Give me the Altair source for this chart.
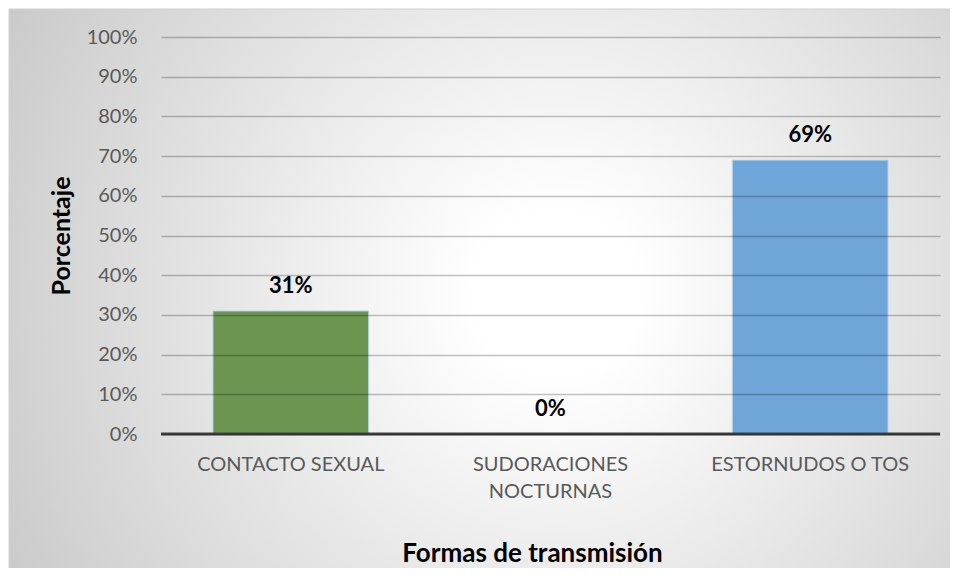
import altair as alt
import pandas as pd

categories = ["CONTACTO SEXUAL", "SUDORACIONES NOCTURNAS", "ESTORNUDOS O TOS"]
values = [0.31, 0.00, 0.69]
bar_colors = ["#6b9551", "#6fa5d8", "#6fa5d8"]
y_ticks = [0, 0.1, 0.2, 0.3, 0.4, 0.5, 0.6, 0.7, 0.8, 0.9, 1.0]

df = pd.DataFrame({"cat": categories, "val": values, "col": bar_colors})

W, H = 779, 397
PAD = {"left": 153, "top": 29, "right": 10, "bottom": 134}
FONT = "Lato"

bg_grad = alt.RadialGradient(
    gradient="radial",
    stops=[alt.GradientStop(color="#ffffff", offset=0),
           alt.GradientStop(color="#ffffff", offset=0.12),
           alt.GradientStop(color="#c4c4c4", offset=1)],
    x1=0.58, y1=0.5, r1=0, x2=0.58, y2=0.5, r2=0.72,
)

bg = alt.Chart(pd.DataFrame({"d": [0]})).mark_rect(
    fill=bg_grad, stroke="#d0d0d0", strokeWidth=1
).encode(
    x=alt.value(-PAD["left"] + 1),
    x2=alt.value(W + PAD["right"] + 2),
    y=alt.value(-PAD["top"] + 1),
    y2=alt.value(H + PAD["bottom"] + 10),
)

xaxis = alt.Axis(
    labelAngle=0, labelFont=FONT, labelFontSize=20, labelColor="#595959",
    labelPadding=20, labelLineHeight=27, labelBaseline="top", labelLimit=0,
    labelExpr="datum.label == 'SUDORACIONES NOCTURNAS' ? ['SUDORACIONES', 'NOCTURNAS'] : datum.label",
    ticks=False, domain=False, grid=False, zindex=1,
    titleFont=FONT, titleFontSize=26, titleFontWeight="bold", titleColor="#000000",
    titleX=371, titleY=119, titleAlign="center", titleBaseline="middle",
)
yaxis = alt.Axis(
    values=y_ticks, format=".0%", labelFont=FONT, labelFontSize=20,
    labelColor="#595959", labelPadding=24, labelOverlap=False,
    ticks=False, domain=False,
    grid=True, gridColor="#000000", gridOpacity=0.24, gridWidth=1.4, zindex=1,
    titleFont=FONT, titleFontSize=25, titleFontWeight="bold", titleColor="#000000",
    titleX=-100, titleY=H / 2, titleAngle=270, titleAlign="center",
    titleBaseline="middle",
)

xenc = alt.X("cat:N", sort=categories, title="Formas de transmisión",
             scale=alt.Scale(paddingInner=0.4, paddingOuter=0.2), axis=xaxis)
yenc = alt.Y("val:Q", title="Porcentaje",
             scale=alt.Scale(domain=[0, 1], nice=False), axis=yaxis)

base = alt.Chart(df)

bars = base.mark_bar(strokeWidth=1).encode(
    x=xenc, y=yenc,
    color=alt.Color("col:N", scale=None),
    stroke=alt.value("#c2d8ea"),
)

labels = base.mark_text(
    dy=-25, font=FONT, fontSize=22, fontWeight="bold", color="#000000",
    baseline="middle",
).encode(
    x=xenc, y=yenc,
    text=alt.Text("val:Q", format=".0%"),
)

zero = alt.Chart(pd.DataFrame({"z": [0]})).mark_rule(
    color="#404040", strokeWidth=3
).encode(y=alt.Y("z:Q", scale=alt.Scale(domain=[0, 1], nice=False), axis=yaxis,
                 title="Porcentaje"))

chart = alt.layer(bg, bars, zero, labels).properties(
    width=W, height=H, padding=PAD, autosize="none",
    background="white",
).configure_view(stroke=None)

chart.save("out.html", embed_options={"renderer": "svg", "actions": False})
